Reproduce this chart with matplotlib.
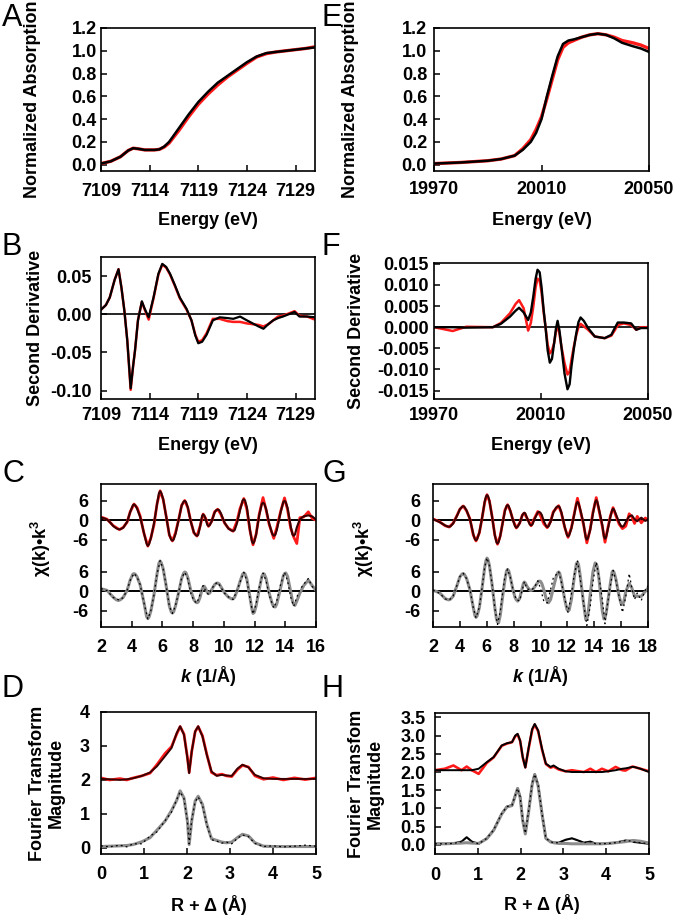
import numpy as np
import matplotlib
matplotlib.use("Agg")
import matplotlib.pyplot as plt

plt.rcParams["font.family"] = ["Liberation Sans", "DejaVu Sans"]
plt.rcParams["font.weight"] = "bold"
plt.rcParams["axes.labelweight"] = "bold"
plt.rcParams["axes.unicode_minus"] = False
plt.rcParams["mathtext.fontset"] = "custom"
plt.rcParams["mathtext.rm"] = "Liberation Sans:bold"
plt.rcParams["mathtext.bf"] = "Liberation Sans:bold"
plt.rcParams["mathtext.it"] = "Liberation Sans:bold:italic"
plt.rcParams["lines.solid_joinstyle"] = "round"

# ==========================================
# DATA
# ==========================================

# A : Fe K-edge
a_e = [7109, 7110, 7111, 7111.8, 7112.3, 7112.8, 7113.5, 7114.5, 7115, 7115.5, 7116,
       7117, 7118, 7119, 7120, 7121, 7122, 7123, 7124, 7125, 7126, 7127, 7128, 7129,
       7130, 7131]
a_black = [0.01, 0.03, 0.07, 0.125, 0.145, 0.14, 0.13, 0.13, 0.135, 0.16, 0.20,
           0.32, 0.44, 0.55, 0.64, 0.72, 0.78, 0.84, 0.90, 0.95, 0.98, 0.99, 1.00,
           1.01, 1.02, 1.03]
a_red = [0.01, 0.03, 0.07, 0.125, 0.145, 0.14, 0.13, 0.13, 0.135, 0.155, 0.19,
         0.30, 0.42, 0.53, 0.62, 0.70, 0.77, 0.83, 0.89, 0.945, 0.975, 0.99, 1.00,
         1.01, 1.02, 1.035]

# B : second derivative (Fe)
b_e = [7109, 7109.5, 7109.9, 7110.4, 7110.8, 7111.1, 7111.4, 7111.7, 7112.05, 7112.3,
       7112.5, 7112.8, 7113.2, 7113.5, 7113.9, 7114.4, 7114.9, 7115.3, 7115.7, 7116.1,
       7116.6, 7117.1, 7117.8, 7118.3, 7118.7, 7119, 7119.4, 7119.85, 7120.5, 7121.2,
       7122, 7122.6, 7123.3, 7124, 7124.6, 7125.2, 7125.7, 7126.2, 7126.7, 7127.2,
       7127.7, 7128.3, 7128.9, 7129.4, 7130.2, 7131]
b_black = [0.006, 0.012, 0.022, 0.045, 0.059, 0.035, 0.005, -0.034, -0.097, -0.068,
           -0.047, -0.008, 0.017, 0.007, -0.004, 0.022, 0.053, 0.066, 0.062, 0.053,
           0.038, 0.022, 0.007, -0.008, -0.028, -0.038, -0.036, -0.027, -0.008, -0.004,
           -0.005, -0.006, -0.003, -0.008, -0.012, -0.016, -0.019, -0.013, -0.008, -0.005,
           -0.003, 0.0, 0.003, -0.003, -0.003, -0.004]
b_red = [0.006, 0.012, 0.022, 0.045, 0.059, 0.035, 0.005, -0.034, -0.099, -0.068,
         -0.047, -0.008, 0.016, 0.006, -0.007, 0.021, 0.052, 0.065, 0.061, 0.052,
         0.037, 0.021, 0.006, -0.008, -0.027, -0.036, -0.034, -0.025, -0.006, -0.006,
         -0.009, -0.010, -0.010, -0.012, -0.013, -0.014, -0.016, -0.013, -0.008, -0.003,
         -0.002, 0.001, 0.004, -0.002, -0.003, -0.007]

# C : EXAFS (Fe), fits (smooth) and data (noisy), two offset traces
c_fit_k = [2.0, 2.2, 2.4, 2.6, 2.8, 3.0, 3.12, 3.2, 3.28, 3.45, 3.7, 3.9, 4.07, 4.15, 4.23,
           4.35, 4.55, 4.8, 4.97, 5.05, 5.13, 5.25, 5.45, 5.65, 5.77, 5.85, 5.93, 6.05,
           6.25, 6.45, 6.57, 6.65, 6.73, 6.85, 7.05, 7.25, 7.37, 7.45, 7.53, 7.65, 7.85,
           8.05, 8.17, 8.25, 8.33, 8.45, 8.58, 8.65, 8.72, 8.8, 8.92, 9.0, 9.08, 9.2, 9.4,
           9.5, 9.6, 9.7, 9.8, 10.05, 10.3, 10.5, 10.6, 10.7, 10.85, 11.05, 11.22, 11.3,
           11.38, 11.5, 11.7, 11.82, 11.9, 11.98, 12.1, 12.3, 12.47, 12.55, 12.63, 12.75,
           12.95, 13.15, 13.25, 13.35, 13.45, 13.7, 13.87, 13.95, 14.03, 14.15, 14.35,
           14.47, 14.55, 14.63, 14.75, 14.95, 15.2, 15.5, 15.75, 16.0]
c_top_fit = [0.8, 0.6, 0.2, -0.7, -1.8, -2.5, -2.75, -2.8, -2.75, -2.3, -0.5, 2.5, 4.6,
             4.9, 4.6, 3.6, 1.0, -4.0, -7.3, -7.9, -7.4, -5.5, -1.0, 5.0, 8.3, 9.0, 8.4,
             6.5, 1.0, -4.5, -6.0, -6.3, -6.0, -4.3, 0.0, 4.5, 5.7, 6.0, 5.7, 4.0, -0.5,
             -3.8, -4.6, -4.8, -4.5, -2.0, 1.3, 1.8, 1.5, 0.6, -1.4, -1.8, -1.5, -0.4, 2.4,
             3.1, 3.3, 3.1, 2.2, -0.8, -2.6, -3.2, -3.3, -3.1, -1.0, 3.0, 6.1, 6.5, 6.1,
             4.0, -3.0, -6.4, -7.2, -6.6, -4.5, 1.5, 5.0, 5.4, 5.1, 3.5, -1.0, -4.2, -4.8,
             -4.5, -3.0, 2.5, 5.6, 6.0, 5.6, 3.8, -1.8, -4.4, -4.8, -4.4, -2.2, 0.3, 1.2,
             1.5, 1.2, 0.2]
c_bot_fit = [0.8, 0.6, 0.3, -0.8, -1.8, -2.6, -2.8, -2.7, -2.5, -1.8, 0.3, 3.5, 5.3, 5.5,
             5.3, 4.5, 2.0, -3.5, -7.8, -8.4, -7.9, -6.0, -1.0, 5.5, 8.7, 9.4, 8.8, 7.0,
             1.5, -4.5, -6.3, -6.7, -6.3, -4.5, -0.5, 4.0, 5.5, 6.0, 5.8, 4.3, 0.2, -2.6,
             -3.3, -3.5, -3.3, -1.8, 0.6, 1.4, 1.6, 1.0, -0.3, -0.7, -0.5, 0.5, 2.1, 2.5,
             2.6, 2.3, 1.5, -0.5, -1.8, -2.3, -2.3, -1.8, 0.0, 3.0, 5.3, 5.7, 5.4, 3.8,
             -1.8, -5.3, -6.8, -6.5, -4.5, 0.5, 4.6, 5.3, 5.4, 4.0, -0.5, -3.8, -4.7, -4.8,
             -3.8, 1.2, 4.8, 5.5, 5.7, 4.6, 0.0, -3.0, -4.0, -4.3, -3.0, -0.5, 1.8, 3.5,
             1.8, 0.3]
c_dat_k = [2.0, 2.4, 2.8, 3.2, 3.45, 3.7, 3.9, 4.15, 4.35, 4.55, 4.8, 5.05, 5.25, 5.45,
           5.65, 5.85, 6.05, 6.25, 6.45, 6.65, 6.85, 7.05, 7.25, 7.45, 7.65, 7.85, 8.05,
           8.25, 8.45, 8.65, 8.8, 9.0, 9.2, 9.4, 9.6, 9.8, 10.05, 10.3, 10.6, 10.85, 11.05,
           11.3, 11.5, 11.7, 11.9, 12.1, 12.3, 12.55, 12.75, 12.95, 13.25, 13.45, 13.7,
           13.95, 14.15, 14.35, 14.55, 14.75, 14.95, 15.2, 15.5, 15.75, 16.0]
c_top_data = [1.0, 0.3, -1.7, -2.9, -2.2, -0.6, 2.6, 5.0, 3.9, 1.3, -4.1, -8.0, -5.4, -1.4,
              5.1, 9.1, 6.4, 1.1, -4.6, -6.4, -3.9, 0.1, 4.6, 6.1, 3.9, -0.4, -3.9, -4.9,
              -1.9, 1.9, 0.7, -1.9, -0.4, 2.6, 3.4, 1.9, -0.9, -2.5, -3.4, -0.4, 3.6, 6.7,
              3.3, -3.2, -7.6, -4.3, 1.8, 7.0, 3.2, -1.3, -5.6, -2.2, 2.8, 6.9, 3.2, -2.4,
              -5.2, -7.2, 0.8, 1.0, 2.6, 0.6, 0.0]
c_bot_data = [0.9, 0.2, -1.9, -2.7, -1.9, 0.4, 3.4, 5.6, 4.4, 2.1, -3.6, -8.5, -5.9, -1.1,
              5.4, 9.5, 6.9, 1.6, -4.6, -6.8, -4.4, -0.4, 4.1, 5.9, 3.9, -0.6, -2.9, -3.6,
              -0.9, 1.8, 0.3, -1.0, 0.7, 2.2, 2.8, 1.3, -0.6, -1.7, -2.5, 0.2, 2.8, 5.9,
              3.3, -2.2, -7.0, -3.8, 1.2, 5.7, 3.3, -1.2, -5.1, -2.8, 2.2, 5.9, 3.2, -1.7,
              -4.6, -1.8, 0.6, 2.2, 4.0, 1.5, 0.5]

# D : Fourier transform (Fe)
d_r = [0, 0.2, 0.44, 0.6, 0.75, 0.95, 1.14, 1.3, 1.49, 1.64, 1.76, 1.84, 1.93, 2.01, 2.05,
       2.11, 2.19, 2.26, 2.36, 2.46, 2.57, 2.69, 2.81, 2.92, 3.04, 3.17, 3.29, 3.43, 3.58,
       3.78, 4.0, 4.24, 4.5, 4.75, 5.0]
d_top_fit = [2.03, 2.02, 2.0, 2.02, 2.05, 2.12, 2.22, 2.4, 2.7, 2.94, 3.38, 3.58, 3.33,
             2.64, 2.2, 2.84, 3.43, 3.58, 3.28, 2.74, 2.25, 2.12, 2.15, 2.13, 2.12, 2.33,
             2.45, 2.37, 2.15, 2.05, 2.03, 2.03, 2.03, 2.03, 2.03]
d_top_data = [2.06, 2.0, 2.04, 2.0, 2.06, 2.12, 2.2, 2.45, 2.78, 2.98, 3.35, 3.57, 3.35,
              2.66, 2.22, 2.84, 3.42, 3.57, 3.3, 2.76, 2.22, 2.14, 2.17, 2.12, 2.1, 2.3,
              2.43, 2.38, 2.12, 2.02, 2.07, 2.0, 2.06, 2.01, 2.06]
d_bot_fit = [0.04, 0.05, 0.06, 0.07, 0.1, 0.18, 0.3, 0.52, 0.79, 1.1, 1.4, 1.68, 1.47,
             0.79, 0.1, 0.8, 1.38, 1.52, 1.28, 0.7, 0.27, 0.22, 0.17, 0.15, 0.17, 0.3,
             0.4, 0.35, 0.15, 0.05, 0.04, 0.04, 0.04, 0.04, 0.04]
d_bot_data = [0.06, 0.03, 0.08, 0.03, 0.12, 0.12, 0.35, 0.47, 0.8, 1.05, 1.42, 1.65, 1.45,
              0.78, 0.12, 0.82, 1.36, 1.5, 1.25, 0.68, 0.24, 0.2, 0.14, 0.17, 0.12, 0.28,
              0.38, 0.33, 0.13, 0.04, 0.06, 0.03, 0.05, 0.08, 0.05]

# E : Mo K-edge
e_e = [19970, 19980, 19990, 19995, 20000, 20003, 20006, 20008, 20010, 20012, 20014,
       20016, 20018, 20020, 20022, 20025, 20028, 20031, 20034, 20037, 20040, 20044,
       20047, 20050]
e_black = [0.01, 0.02, 0.035, 0.05, 0.08, 0.13, 0.20, 0.28, 0.40, 0.60, 0.78, 0.95,
           1.06, 1.09, 1.10, 1.12, 1.14, 1.15, 1.14, 1.11, 1.07, 1.04, 1.02, 0.99]
e_red = [0.01, 0.02, 0.035, 0.05, 0.08, 0.14, 0.22, 0.31, 0.42, 0.58, 0.75, 0.92,
         1.03, 1.07, 1.09, 1.12, 1.14, 1.15, 1.14, 1.12, 1.09, 1.07, 1.05, 1.02]

# F : second derivative (Mo)
f_e = [19970, 19977, 19982, 19992, 19995, 19998.4, 20000.5, 20001.8, 20003.5, 20005.2,
       20006.2, 20007.1, 20008, 20008.7, 20009.5, 20010.2, 20011, 20011.7, 20012.5,
       20013.3, 20014.1, 20014.9, 20015.6, 20016.2, 20016.9, 20017.6, 20018.8, 20019.9,
       20020.7, 20021.4, 20022.3, 20023.2, 20024, 20024.8, 20026, 20027.6, 20030.1,
       20033.8, 20036.3, 20037.5, 20038.7, 20041, 20043.7, 20045.6, 20047.4, 20050]
f_black = [0.0, 0.0, -0.0001, 0.0, 0.0008, 0.0025, 0.0039, 0.0046, 0.0035, 0.0017,
           0.0035, 0.0072, 0.0115, 0.0136, 0.013, 0.0095, 0.004, 0.0, -0.0055, -0.0084,
           -0.0075, -0.0038, -0.0003, 0.0015, -0.0008, -0.0045, -0.011, -0.0147, -0.0135,
           -0.0092, -0.005, -0.0014, 0.0012, 0.0023, 0.0015, -0.0002, -0.0022, -0.0026,
           -0.0018, -0.0003, 0.0011, 0.0011, 0.0009, -0.0006, -0.0002, -0.0002]
f_red = [0.0, -0.0009, 0.0001, 0.0, 0.001, 0.0033, 0.0055, 0.0064, 0.0045, -0.0008,
         0.001, 0.0048, 0.0095, 0.0115, 0.011, 0.0083, 0.0035, 0.0, -0.0042, -0.0062,
         -0.0055, -0.0038, -0.001, 0.0005, -0.0015, -0.0045, -0.0085, -0.0112, -0.0105,
         -0.0077, -0.0045, -0.0018, 0.0, 0.0008, 0.0002, -0.0006, -0.0022, -0.0026,
         -0.002, -0.0008, 0.0005, 0.0009, 0.0005, -0.0006, 0.0, 0.0]

# G : EXAFS (Mo)
g_fit_k = [2.0, 2.25, 2.5, 2.7, 2.9, 3.1, 3.2, 3.3, 3.5, 3.8, 4.0, 4.17, 4.25, 4.33, 4.5,
           4.75, 5.0, 5.12, 5.2, 5.28, 5.45, 5.65, 5.85, 5.94, 6.02, 6.1, 6.2, 6.4, 6.6,
           6.72, 6.8, 6.88, 7.0, 7.2, 7.35, 7.47, 7.55, 7.63, 7.75, 7.95, 8.1, 8.2, 8.3,
           8.45, 8.65, 8.73, 8.8, 8.87, 9.0, 9.2, 9.3, 9.4, 9.55, 9.8, 9.9, 10.0, 10.1,
           10.25, 10.42, 10.5, 10.6, 10.75, 10.95, 11.15, 11.27, 11.35, 11.43, 11.55, 11.8,
           11.97, 12.05, 12.13, 12.3, 12.5, 12.67, 12.75, 12.83, 12.95, 13.2, 13.37, 13.45,
           13.53, 13.7, 13.9, 14.07, 14.15, 14.23, 14.35, 14.6, 14.72, 14.8, 14.88, 15.0,
           15.2, 15.33, 15.4, 15.47, 15.6, 15.85, 16.0, 16.1, 16.2, 16.35, 16.6, 16.8, 17.0,
           17.2, 17.5, 17.8, 18.0]
g_top_fit = [0.3, -0.1, -0.6, -1.1, -1.6, -1.95, -2.0, -1.9, -1.0, 1.5, 3.4, 4.2, 4.3, 4.2,
             3.0, 0.3, -4.3, -5.9, -6.2, -5.9, -3.8, 0.7, 5.8, 7.3, 7.8, 7.4, 6.0, 1.0,
             -4.6, -6.8, -7.2, -6.8, -5.0, -0.5, 2.8, 4.4, 4.7, 4.4, 3.0, 0.0, -1.8, -2.3,
             -2.0, -0.9, 1.6, 2.1, 2.3, 2.1, 0.7, -1.3, -1.6, -1.3, 0.3, 2.4, 2.6, 2.3, 1.6,
             -0.3, -1.8, -2.1, -1.9, -0.5, 2.3, 3.9, 4.3, 4.3, 4.0, 2.5, -2.0, -4.6, -5.0,
             -4.7, -2.5, 1.5, 5.1, 5.7, 5.3, 3.5, -1.0, -5.4, -6.0, -5.5, -3.0, 2.0, 5.6,
             6.2, 5.7, 3.5, -1.5, -5.0, -5.7, -5.2, -3.0, 1.0, 3.1, 3.6, 3.3, 2.0, -0.7,
             -1.8, -2.0, -1.7, -0.5, 1.2, 1.5, 0.3, -0.3, 0.8, -0.2, 0.2]
g_bot_fit = [0.3, 0.0, -0.5, -1.3, -2.2, -2.55, -2.6, -2.4, -1.5, 2.0, 4.5, 5.4, 5.5, 5.3,
             4.0, 0.5, -5.0, -7.5, -8.0, -7.6, -5.0, 1.0, 7.5, 9.5, 10.3, 9.7, 8.0, 2.0,
             -5.0, -8.4, -9.5, -9.7, -7.5, -1.0, 3.5, 6.3, 6.8, 6.4, 4.5, 0.5, -1.8, -2.6,
             -3.0, -2.2, 1.2, 2.5, 2.9, 2.6, 1.5, 0.4, 0.3, 0.5, 1.3, 2.8, 3.2, 3.1, 2.4,
             0.5, -2.2, -3.0, -3.5, -2.5, 1.0, 4.3, 5.7, 6.0, 5.6, 3.5, -2.5, -5.6, -6.0,
             -5.8, -2.5, 4.0, 8.6, 9.0, 8.3, 5.0, -3.5, -8.7, -8.6, -7.2, -1.0, 6.0, 8.8,
             8.5, 7.5, 4.0, -6.0, -8.5, -8.2, -6.8, -3.5, 2.5, 6.0, 6.3, 5.9, 4.0, -1.5,
             -3.8, -4.0, -3.2, 0.0, 2.5, 1.0, -1.5, -1.5, -1.5, 0.0, 1.0]
g_dat_k = [2.0, 2.5, 2.9, 3.2, 3.5, 3.8, 4.0, 4.25, 4.5, 4.75, 5.0, 5.2, 5.45, 5.65, 5.85,
           6.02, 6.2, 6.4, 6.6, 6.8, 7.0, 7.2, 7.35, 7.55, 7.75, 7.95, 8.2, 8.45, 8.65, 8.8,
           9.0, 9.3, 9.55, 9.8, 10.0, 10.25, 10.5, 10.75, 10.95, 11.35, 11.55, 11.8, 12.05,
           12.3, 12.5, 12.75, 12.95, 13.2, 13.45, 13.7, 13.9, 14.15, 14.35, 14.6, 14.8, 15.0,
           15.2, 15.4, 15.6, 15.85, 16.1, 16.35, 16.6, 16.8, 17.0, 17.2, 17.5, 17.8, 18.0]
g_top_data = [0.4, -0.5, -1.7, -2.1, -0.9, 1.6, 3.4, 4.4, 2.9, 0.4, -4.6, -6.4, -3.9, 0.6,
              5.6, 7.9, 5.9, 1.1, -4.6, -7.4, -4.9, -0.4, 3.1, 4.8, 2.9, 0.1, -2.4, -0.9,
              1.6, 2.2, 0.6, -1.7, 0.6, 2.7, 1.4, -1.1, -2.3, -0.4, 2.6, 4.5, 2.3, -2.2,
              -5.3, -2.3, 1.8, 6.8, 3.2, -1.3, -7.0, -2.7, 2.4, 7.0, 3.1, -1.9, -6.8, -2.6,
              1.3, 3.9, 1.5, -1.2, -2.6, -1.8, 2.0, 1.0, -1.0, 1.2, -0.8, 0.7, 0.1]
g_bot_data = [0.4, -0.6, -2.3, -2.7, -1.4, 2.1, 4.6, 5.6, 3.9, 0.6, -5.1, -8.1, -4.9, 1.1,
              7.6, 10.4, 7.9, 2.1, -5.1, -10.2, -6.4, 0.1, 4.6, 6.9, 4.4, 0.6, -2.6, -2.9,
              0.6, 3.0, 0.8, 0.4, 1.2, 3.3, 0.9, -3.1, -3.6, 0.6, 4.1, 6.1, 2.9, -2.1,
              -6.5, -0.8, 4.8, 9.6, 4.0, -3.5, -10.5, -4.6, 2.8, 9.0, 4.6, -2.4, -10.0,
              -3.6, 1.8, 6.5, 3.6, -1.6, -6.5, -1.5, 5.5, 1.0, -2.5, -0.5, -2.8, 0.5, 1.8]

# H : Fourier transform (Mo)
h_r = [0, 0.23, 0.43, 0.62, 0.74, 0.86, 1.02, 1.21, 1.37, 1.56, 1.68, 1.8, 1.875, 1.93,
       1.99, 2.05, 2.11, 2.19, 2.27, 2.33, 2.41, 2.5, 2.59, 2.7, 2.77, 2.89, 3.05, 3.2,
       3.3, 3.48, 3.63, 3.76, 3.9, 4.05, 4.22, 4.375, 4.45, 4.61, 4.65, 4.8, 5.0]
h_top_fit = [2.05, 2.05, 2.05, 2.05, 2.05, 2.05, 2.09, 2.27, 2.41, 2.73, 2.79, 2.82, 3.0,
             3.05, 2.86, 2.41, 2.12, 2.68, 3.18, 3.32, 3.14, 2.64, 2.23, 2.14, 2.18, 2.09,
             2.02, 2.0, 2.0, 2.0, 2.0, 2.0, 2.0, 2.02, 2.05, 2.09, 2.1, 2.14, 2.14, 2.09,
             2.0]
h_top_data = [2.05, 2.09, 2.18, 2.05, 2.15, 2.05, 1.95, 2.25, 2.4, 2.72, 2.78, 2.82, 2.98,
              3.03, 2.85, 2.4, 2.13, 2.66, 3.15, 3.3, 3.12, 2.62, 2.22, 2.12, 2.15, 2.07,
              2.02, 2.05, 2.03, 2.0, 2.09, 2.0, 2.09, 2.02, 2.14, 2.05, 2.04, 2.15, 2.14,
              2.09, 2.02]
h_bot_fit = [0.03, 0.03, 0.04, 0.05, 0.06, 0.05, 0.04, 0.17, 0.4, 0.85, 1.04, 1.08, 1.35,
             1.55, 1.3, 0.66, 0.3, 0.93, 1.66, 1.93, 1.62, 0.85, 0.18, 0.08, 0.06, 0.04,
             0.04, 0.03, 0.03, 0.03, 0.03, 0.03, 0.03, 0.04, 0.06, 0.08, 0.09, 0.12, 0.12,
             0.1, 0.05]
h_bot_data = [0.03, 0.03, 0.04, 0.09, 0.21, 0.09, 0.03, 0.18, 0.41, 0.86, 1.05, 1.09, 1.36,
              1.55, 1.32, 0.68, 0.32, 0.95, 1.68, 1.94, 1.64, 0.86, 0.18, 0.09, 0.06, 0.06,
              0.14, 0.18, 0.14, 0.06, 0.09, 0.03, 0.03, 0.04, 0.06, 0.1, 0.12, 0.1, 0.08,
              0.06, 0.03]

EXAFS_OFFSET = 22

# ==========================================
# FIGURE
# ==========================================

W, H = 677, 916
fig = plt.figure(figsize=(W / 100, H / 100), dpi=100)

RED = "#ff1a1a"
DARK = "#3a0000"
GREY = "#8c8c8c"
FS = 13


def make_axes(left, top, right, bottom):
    return fig.add_axes([left / W, 1 - bottom / H, (right - left) / W, (bottom - top) / H])


def style(ax, xpad, ypad):
    for s in ax.spines.values():
        s.set_linewidth(1.2)
    ax.tick_params(direction="in", length=4, width=1.1, labelsize=FS)
    ax.tick_params(axis="x", pad=xpad)
    ax.tick_params(axis="y", pad=ypad)


def labels(ax, xlabel, ylabel, xl_y, yl_x, yl_y=0.5):
    ax.set_xlabel(xlabel, fontsize=FS, fontweight="bold")
    ax.set_ylabel(ylabel, fontsize=FS, fontweight="bold", linespacing=1.1)
    ax.xaxis.set_label_coords(0.5, xl_y)
    ax.yaxis.set_label_coords(yl_x, yl_y)
    ax.yaxis.label.set_va("center")


def letter(x, y, s):
    fig.text(x / W, 1 - y / H, s, fontsize=22, fontweight="normal", va="baseline", ha="left")


one_dec = np.arange(0, 1.21, 0.2)

# ---- A
ax = make_axes(101, 28, 315, 171)
ax.plot(a_e, a_red, color=RED, lw=2.4)
ax.plot(a_e, a_black, color="black", lw=1.8)
ax.set_xlim(7109, 7131)
ax.set_ylim(-0.055, 1.2)
ax.set_xticks([7109, 7114, 7119, 7124, 7129])
ax.set_yticks(one_dec, [f"{v:.1f}" for v in one_dec])
style(ax, 9, 3)
labels(ax, "Energy (eV)", "Normalized Absorption", -0.284, -0.318)

# ---- E
ax = make_axes(434, 28, 649, 171)
ax.plot(e_e, e_red, color=RED, lw=2.4)
ax.plot(e_e, e_black, color="black", lw=1.8)
ax.set_xlim(19970, 20050)
ax.set_ylim(-0.055, 1.2)
ax.set_xticks([19970, 20010, 20050])
ax.set_yticks(one_dec, [f"{v:.1f}" for v in one_dec])
style(ax, 7.5, 5)
labels(ax, "Energy (eV)", "Normalized Absorption", -0.284, -0.39)

# ---- B
ax = make_axes(101, 257, 315, 399)
ax.axhline(0, color="black", lw=1.2)
ax.plot(b_e, b_red, color=RED, lw=1.8)
ax.plot(b_e, b_black, color="black", lw=1.6)
ax.set_xlim(7109, 7131)
ax.set_ylim(-0.111, 0.075)
ax.set_xticks([7109, 7114, 7119, 7124, 7129])
ax.set_yticks([-0.10, -0.05, 0.0, 0.05], ["-0.10", "-0.05", "0.00", "0.05"])
style(ax, 5.5, 7)
labels(ax, "Energy (eV)", "Second Derivative", -0.265, -0.304)

# ---- F
ax = make_axes(434, 263, 648, 399)
ax.axhline(0, color="black", lw=1.2)
ax.plot(f_e, f_red, color=RED, lw=1.8)
ax.plot(f_e, f_black, color="black", lw=1.7)
ax.set_xlim(19970, 20050)
ax.set_ylim(-0.017, 0.0152)
ax.set_xticks([19970, 20010, 20050])
f_ticks = [-0.015, -0.01, -0.005, 0.0, 0.005, 0.01, 0.015]
ax.set_yticks(f_ticks, [f"{v:.3f}" for v in f_ticks])
style(ax, 5.5, 4)
labels(ax, "Energy (eV)", "Second Derivative", -0.276, -0.36)

# ---- C and G
panels = [
    ((101, 484, 316, 627), c_fit_k, c_top_fit, c_bot_fit,
     c_dat_k, c_top_data, c_bot_data, 16, -0.279),
    ((433, 484, 648, 627), g_fit_k, g_top_fit, g_bot_fit,
     g_dat_k, g_top_data, g_bot_data, 18, -0.321),
]
for box, fk, tf, bf, dk, td, bd, xmax, yl_x in panels:
    ax = make_axes(*box)
    ax.axhline(EXAFS_OFFSET, color="black", lw=1.4, zorder=1)
    ax.axhline(0, color="black", lw=1.4, zorder=1)
    ax.plot(dk, np.array(td) + EXAFS_OFFSET, color=RED, lw=2.0)
    ax.plot(fk, np.array(tf) + EXAFS_OFFSET, color=DARK, lw=1.5)
    ax.plot(fk, bf, color=GREY, lw=2.2)
    ax.plot(dk, bd, color="black", lw=0.9, ls=(0, (1.5, 2.5)))
    ax.set_xlim(2, xmax)
    ax.set_ylim(-11, 33.2)
    ax.set_xticks(np.arange(2, xmax + 1, 2))
    ax.set_yticks([-6, 0, 6, EXAFS_OFFSET - 6, EXAFS_OFFSET, EXAFS_OFFSET + 6],
                  ["-6", "0", "6", "-6", "0", "6"])
    style(ax, 9, 9)
    ax.set_xlabel(r"$\it{k}$ (1/Å)", fontsize=FS, fontweight="bold")
    ax.set_ylabel(r"χ(k)•k$^{3}$", fontsize=FS, fontweight="bold")
    ax.xaxis.set_label_coords(0.5, -0.256)
    ax.yaxis.set_label_coords(yl_x, 0.55)
    ax.yaxis.label.set_va("center")

# ---- D
ax = make_axes(101, 712, 316, 854)
ax.plot(d_r, d_top_data, color=RED, lw=2.0)
ax.plot(d_r, d_top_fit, color=DARK, lw=1.4)
ax.plot(d_r, d_bot_fit, color=GREY, lw=2.2)
ax.plot(d_r, d_bot_data, color="black", lw=0.9, ls=(0, (1.5, 2.5)))
ax.set_xlim(0, 5)
ax.set_ylim(-0.18, 4.0)
ax.set_xticks(range(6))
ax.set_yticks(range(5))
style(ax, 8.5, 8)
labels(ax, "R + Δ (Å)", "Fourier Transform\nMagnitude", -0.286, -0.251)

# ---- H
ax = make_axes(435, 713, 649, 854)
ax.plot(h_r, h_top_data, color=RED, lw=1.9)
ax.plot(h_r, h_top_fit, color="black", lw=1.4)
ax.plot(h_r, h_bot_data, color="black", lw=1.5)
ax.plot(h_r, h_bot_fit, color=GREY, lw=2.2)
ax.plot(h_r, h_bot_data, color="black", lw=0.9, ls=(0, (1.5, 2.5)))
ax.set_xlim(0, 5)
ax.set_ylim(-0.25, 3.62)
ax.set_xticks(range(6))
h_ticks = np.arange(0, 3.51, 0.5)
ax.set_yticks(h_ticks, [f"{v:.1f}" for v in h_ticks])
style(ax, 9, 6.5)
labels(ax, "R + Δ (Å)", "Fourier Transfom\nMagnitude", -0.286, -0.322)

# panel letters
for x, y, s in [(2, 26, "A"), (322, 26, "E"), (2, 255, "B"), (322, 255, "F"),
                (2, 482, "C"), (322, 482, "G"), (2, 697, "D"), (322, 697, "H")]:
    letter(x, y, s)

fig.savefig("out.png", dpi=100)
